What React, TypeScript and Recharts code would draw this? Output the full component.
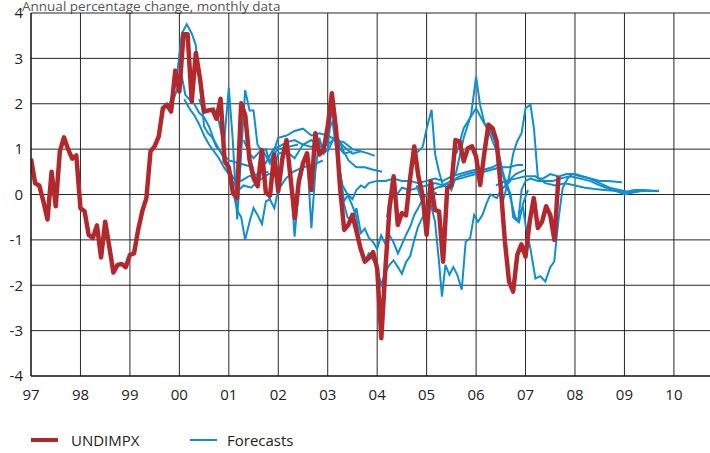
import React from 'react';
import { LineChart, Line, XAxis, YAxis, ReferenceLine, Legend } from 'recharts';

const startYear = 1997;
// UNDIMPX, monthly values from Jan 1997
const undimpx = [
  0.79, 0.25, 0.2, -0.15, -0.55, 0.5, -0.26, 0.95, 1.26, 1.0, 0.79, 0.86,
  -0.3, -0.37, -0.89, -0.96, -0.68, -1.39, -0.6, -1.15, -1.72, -1.55, -1.53, -1.6,
  -1.33, -1.3, -0.78, -0.37, -0.08, 0.95, 1.06, 1.28, 1.9, 1.98, 1.83, 2.73,
  2.27, 3.53, 3.53, 2.05, 3.12, 2.56, 1.83, 1.85, 1.87, 1.67, 2.11, 0.73,
  0.6, 0.03, -0.08, 2.01, 1.74, 0.78, 0.36, 0.18, 0.98, 0.03, -0.02, 0.88,
  0.07, 0.8, 1.2, 0.35, -0.52, 0.3, 0.69, 0.91, 0.1, 1.35, 0.88, 0.98,
  1.5, 2.23, 1.46, 0.14, -0.78, -0.67, -0.45, -0.82, -1.2, -1.48, -1.4, -1.27,
  -1.63, -3.17, -1.63, -0.3, 0.4, -0.67, -0.41, -0.46, 0.36, 1.06, 0.4, -0.01,
  -0.89, 0.29, -0.34, -0.37, -1.48, 0.14, 0.2, 1.2, 1.17, 0.73, 1.02, 1.06,
  0.84, 0.21, 0.91, 1.54, 1.46, 1.17, 0.14, -1.04, -1.92, -2.14, -1.33, -1.1,
  -1.37, -0.6, -0.08, -0.74, -0.6, -0.26, -0.45, -1.0, 0.4,
];

type P = [number, number];

const forecast01: P[] = [[1999.62,1.8],[1999.7,1.95],[1999.78,1.9],[1999.87,2.25],[1999.95,2.6],[2000.05,3.55],[2000.15,3.75],[2000.25,3.55],[2000.33,3.3],[2000.42,2.4],[2000.5,1.5],[2000.58,1.35],[2000.67,1.25],[2000.75,1.05],[2000.83,0.95],[2000.92,0.85],[2001.0,0.75],[2001.17,0.7],[2001.33,0.65],[2001.5,0.6]];
const forecast02: P[] = [[1999.85,2.0],[1999.95,2.3],[2000.05,2.6],[2000.12,2.2],[2000.2,2.1],[2000.3,2.0],[2000.4,1.8],[2000.5,1.7],[2000.6,1.5],[2000.7,1.2],[2000.8,1.0],[2000.9,0.8],[2001.0,0.55],[2001.1,0.35],[2001.25,0.3],[2001.4,0.4],[2001.6,0.45],[2001.8,0.5]];
const forecast03: P[] = [[2000.1,2.1],[2000.2,1.9],[2000.3,1.75],[2000.4,1.55],[2000.5,1.3],[2000.6,1.1],[2000.7,0.95],[2000.8,0.8],[2000.9,0.6],[2001.0,0.45],[2001.1,0.25],[2001.2,0.1],[2001.3,0.2],[2001.45,0.15],[2001.6,0.3],[2001.8,0.45],[2002.0,0.5],[2002.1,0.55]];
const forecast04: P[] = [[2000.4,2.1],[2000.5,1.8],[2000.6,1.85],[2000.7,1.9],[2000.8,1.6],[2000.9,1.1],[2001.0,2.35],[2001.08,1.2],[2001.17,-0.55],[2001.25,0.9],[2001.33,2.3],[2001.42,1.85],[2001.5,1.85],[2001.58,1.1],[2001.67,0.95],[2001.75,1.0],[2001.83,0.7],[2001.92,0.9],[2002.0,1.0],[2002.2,1.05],[2002.4,1.1]];
const forecast05: P[] = [[2000.9,0.6],[2001.0,0.5],[2001.08,0.1],[2001.17,-0.35],[2001.25,-0.5],[2001.33,-1.0],[2001.42,-0.6],[2001.5,-0.3],[2001.58,-0.45],[2001.67,-0.65],[2001.75,-0.15],[2001.83,-0.1],[2001.92,-0.3],[2002.0,0.1],[2002.15,0.35],[2002.3,0.5],[2002.5,0.6],[2002.7,0.65],[2002.9,0.75]];
const forecast06: P[] = [[2001.42,0.8],[2001.5,0.5],[2001.58,0.3],[2001.67,0.9],[2001.75,0.1],[2001.83,-0.1],[2001.92,0.9],[2002.0,0.0],[2002.08,0.7],[2002.17,1.1],[2002.25,0.4],[2002.33,-0.93],[2002.42,0.2],[2002.5,0.6],[2002.58,0.9],[2002.67,-0.74],[2002.75,0.5],[2002.83,1.25],[2002.92,0.9],[2003.0,1.0],[2003.08,1.9],[2003.17,1.3],[2003.25,1.0],[2003.33,0.9],[2003.5,0.95]];
const forecast07: P[] = [[2001.3,1.2],[2001.42,0.9],[2001.5,0.8],[2001.67,1.0],[2001.83,0.7],[2002.0,1.25],[2002.17,1.3],[2002.33,1.4],[2002.5,1.45],[2002.67,1.3],[2002.83,1.35],[2003.0,1.3],[2003.17,1.2],[2003.33,1.15],[2003.5,1.0],[2003.67,0.95]];
const forecast08: P[] = [[2001.6,0.6],[2001.75,0.7],[2001.9,1.0],[2002.0,1.05],[2002.17,1.15],[2002.33,1.2],[2002.5,1.1],[2002.67,1.2],[2002.83,1.05],[2003.0,1.1],[2003.17,1.25],[2003.33,1.05],[2003.5,0.9],[2003.67,0.95],[2003.83,0.9],[2003.95,0.85]];
const forecast09: P[] = [[2001.9,0.5],[2002.0,0.9],[2002.17,0.95],[2002.33,0.8],[2002.5,1.1],[2002.67,1.05],[2002.83,1.15],[2003.0,0.95],[2003.17,1.35],[2003.3,1.0],[2003.42,0.75],[2003.58,0.6],[2003.75,0.6],[2003.9,0.55],[2004.1,0.5]];
const forecast10: P[] = [[2003.0,1.4],[2003.1,1.6],[2003.2,0.75],[2003.3,0.2],[2003.4,0.0],[2003.5,-0.25],[2003.58,-0.5],[2003.67,-1.2],[2003.75,-1.45],[2003.83,-1.3],[2003.92,-1.45],[2004.0,-1.6],[2004.08,-2.0],[2004.17,-1.7],[2004.25,-1.55],[2004.33,-1.45],[2004.42,-1.6],[2004.5,-1.75],[2004.58,-1.5],[2004.67,-1.35],[2004.75,-1.0],[2004.83,-0.7],[2004.92,-0.5],[2005.0,-0.3],[2005.08,-0.1],[2005.2,0.05]];
const forecast11: P[] = [[2003.2,0.9],[2003.3,-0.1],[2003.4,-0.5],[2003.5,-0.6],[2003.58,-0.3],[2003.67,-0.85],[2003.75,-0.75],[2003.83,-0.95],[2003.92,-1.05],[2004.0,-1.2],[2004.08,-0.9],[2004.17,-1.1],[2004.25,-0.9],[2004.33,-1.05],[2004.42,-1.3],[2004.5,-1.1],[2004.58,-0.9],[2004.67,-0.7],[2004.75,-0.45],[2004.83,-0.3],[2004.92,-0.1],[2005.0,0.0],[2005.2,0.15],[2005.4,0.2]];
const forecast12: P[] = [[2003.25,0.5],[2003.33,-0.15],[2003.42,0.0],[2003.5,-0.1],[2003.58,0.1],[2003.67,0.2],[2003.75,0.15],[2003.83,0.25],[2004.0,0.3],[2004.17,0.3],[2004.33,0.35],[2004.5,0.3],[2004.67,0.3],[2004.83,0.25],[2005.0,0.3],[2005.17,0.35],[2005.33,0.3],[2005.5,0.4],[2005.67,0.45],[2005.83,0.5],[2006.0,0.55]];
const forecast13: P[] = [[2004.2,-0.5],[2004.3,0.3],[2004.4,0.0],[2004.5,0.15],[2004.67,0.1],[2004.83,0.15],[2005.0,0.2],[2005.17,0.25],[2005.33,0.2],[2005.5,0.3],[2005.67,0.35],[2005.83,0.4],[2006.0,0.45],[2006.17,0.5],[2006.33,0.55],[2006.5,0.6],[2006.67,0.6],[2006.83,0.65],[2006.95,0.65]];
const forecast14: P[] = [[2004.6,0.0],[2004.67,0.5],[2004.75,0.9],[2004.83,0.95],[2004.92,1.05],[2005.0,1.45],[2005.1,1.87],[2005.17,0.9],[2005.25,0.5],[2005.33,0.2],[2005.42,0.25],[2005.5,0.1],[2005.58,0.35],[2005.67,0.4],[2005.83,0.45],[2006.0,0.5],[2006.17,0.55],[2006.33,0.6],[2006.5,0.7]];
const forecast15: P[] = [[2004.8,0.2],[2004.92,-0.2],[2005.0,-0.5],[2005.08,-0.2],[2005.17,-0.6],[2005.25,-1.48],[2005.31,-2.25],[2005.38,-1.55],[2005.46,-1.77],[2005.54,-1.6],[2005.62,-1.77],[2005.71,-2.1],[2005.79,-1.04],[2005.88,-0.96],[2005.96,-0.45],[2006.04,-0.6],[2006.13,-0.45],[2006.21,-0.2],[2006.29,0.0],[2006.42,-0.08],[2006.5,0.1],[2006.7,0.3]];
const forecast16: P[] = [[2005.5,0.3],[2005.6,0.5],[2005.75,1.25],[2005.9,1.76],[2006.0,2.6],[2006.08,1.98],[2006.17,1.57],[2006.29,1.39],[2006.42,1.1],[2006.54,0.5],[2006.62,0.2],[2006.7,-0.1],[2006.79,-0.5],[2006.87,-0.6],[2006.95,-0.2],[2007.05,0.1]];
const forecast17: P[] = [[2005.6,0.9],[2005.75,1.46],[2006.0,1.9],[2006.12,1.65],[2006.25,1.4],[2006.4,1.0],[2006.5,0.6],[2006.6,0.2],[2006.7,0.35],[2006.8,0.45],[2006.9,0.5],[2007.0,0.55]];
const forecast18: P[] = [[2006.5,-0.3],[2006.58,0.0],[2006.67,0.4],[2006.75,0.9],[2006.83,1.17],[2006.92,1.35],[2007.0,1.9],[2007.1,1.98],[2007.17,1.46],[2007.25,0.36],[2007.35,0.35],[2007.5,0.45],[2007.67,0.4],[2007.83,0.45],[2008.0,0.45],[2008.17,0.4],[2008.33,0.35],[2008.5,0.3],[2008.67,0.3],[2008.83,0.28],[2008.95,0.27]];
const forecast19: P[] = [[2006.85,-0.4],[2006.95,-0.3],[2007.0,-0.67],[2007.1,-1.2],[2007.2,-1.85],[2007.3,-1.8],[2007.4,-1.92],[2007.5,-1.6],[2007.58,-1.48],[2007.67,-0.52],[2007.75,0.14],[2007.85,0.35],[2007.95,0.45],[2008.1,0.4],[2008.3,0.35],[2008.5,0.25],[2008.7,0.15],[2008.9,0.1],[2009.1,0.05],[2009.3,0.08],[2009.5,0.08],[2009.7,0.07]];
const forecast20: P[] = [[2006.6,0.3],[2006.7,0.0],[2006.75,-0.5],[2006.85,-0.6],[2006.92,0.1],[2007.0,0.3],[2007.1,0.35],[2007.25,0.3],[2007.4,0.3],[2007.55,0.3],[2007.7,0.35],[2007.9,0.4],[2008.1,0.35],[2008.3,0.3],[2008.5,0.2],[2008.7,0.12],[2008.9,0.05],[2009.0,0.0],[2009.2,0.05],[2009.4,0.08],[2009.7,0.08]];
const forecast21: P[] = [[2006.4,0.2],[2006.6,0.3],[2006.8,0.35],[2007.0,0.4],[2007.2,0.4],[2007.4,0.25],[2007.6,0.2],[2007.8,0.25],[2008.0,0.2],[2008.2,0.15],[2008.4,0.12],[2008.6,0.1],[2008.8,0.08],[2009.0,0.05],[2009.2,0.1],[2009.4,0.1],[2009.6,0.07]];

const forecasts: P[][] = [
  forecast01, forecast02, forecast03, forecast04, forecast05, forecast06, forecast07,
  forecast08, forecast09, forecast10, forecast11, forecast12, forecast13, forecast14,
  forecast15, forecast16, forecast17, forecast18, forecast19, forecast20, forecast21,
];

const xDomain: [number, number] = [1997, 2010.73];
const yDomain: [number, number] = [-4, 4];
const yearTicks = [1997, 1998, 1999, 2000, 2001, 2002, 2003, 2004, 2005, 2006, 2007, 2008, 2009, 2010];
const valueTicks = [-4, -3, -2, -1, 0, 1, 2, 3, 4];
const title = 'Annual percentage change, monthly data';
const seriesNames = ['UNDIMPX', 'Forecasts'];

const CHART_W = 710;
const CHART_H = 453;
const Y_AXIS_W = 31;
const X_AXIS_H = 77;
const TOP = 13;

const RED = '#b3282d';
const BLUE = '#0d8fd1';
const GRID = '#262626';
const FONT = '"Open Sans", "Noto Sans", sans-serif';

const redData = undimpx.map((v, i) => ({ t: startYear + i / 12, v }));
const blueData = forecasts.map((f) => f.map(([t, v]) => ({ t, v })));

// grid row positions follow the plot box (top margin to x-axis)
const plotBottom = CHART_H - X_AXIS_H;
const rowY = (v: number) => TOP + ((yDomain[1] - v) / (yDomain[1] - yDomain[0])) * (plotBottom - TOP);

const LegendContent = () => (
  <div style={{ position: 'relative', height: 22, width: 400, fontFamily: FONT, fontSize: 15, color: '#222' }}>
    <span style={{ position: 'absolute', left: 31, top: 9, width: 27, height: 4, background: RED }} />
    <span style={{ position: 'absolute', left: 71, top: 0, lineHeight: '22px' }}>{seriesNames[0]}</span>
    <span style={{ position: 'absolute', left: 190, top: 10, width: 27, height: 2, background: BLUE }} />
    <span style={{ position: 'absolute', left: 227, top: 0, lineHeight: '22px' }}>{seriesNames[1]}</span>
  </div>
);

export default function App() {
  return (
    <div style={{ position: 'absolute', left: 0, top: 0, width: CHART_W, height: CHART_H, background: '#fff' }}>
      <LineChart width={CHART_W} height={CHART_H} data={redData} margin={{ top: TOP, right: 0, bottom: 0, left: 0 }}>
        <text x={22} y={11} fontSize={13.5} fill="#555" fontFamily={FONT}>{title}</text>
        <g className="grid-rows">
          {valueTicks.map((v) => (
            <path
              key={'row' + v}
              d={`M${Y_AXIS_W},${rowY(v)}H${CHART_W}`}
              stroke={GRID}
              strokeWidth={1}
              fill="none"
            />
          ))}
        </g>
        {yearTicks.map((yr) => (
          <ReferenceLine key={'gx' + yr} x={yr} stroke={GRID} strokeWidth={1} ifOverflow="visible" />
        ))}
        <XAxis
          dataKey="t"
          type="number"
          domain={xDomain}
          allowDataOverflow
          ticks={yearTicks}
          tickFormatter={(y: number) => String(y % 100).padStart(2, '0')}
          tickLine={false}
          axisLine={{ stroke: '#000' }}
          tickMargin={7}
          height={X_AXIS_H}
          tick={{ fill: '#222', fontSize: 15, fontFamily: FONT }}
        />
        <YAxis
          type="number"
          domain={yDomain}
          ticks={valueTicks}
          width={Y_AXIS_W}
          tickLine={false}
          axisLine={{ stroke: '#000' }}
          tick={{ fill: '#222', fontSize: 15, fontFamily: FONT }}
        />
        {blueData.map((d, i) => (
          <Line
            key={'f' + i}
            data={d}
            dataKey="v"
            type="linear"
            stroke={BLUE}
            strokeWidth={2}
            dot={false}
            activeDot={false}
            isAnimationActive={false}
            legendType="none"
          />
        ))}
        <Line
          dataKey="v"
          type="linear"
          stroke={RED}
          strokeWidth={4.5}
          dot={false}
          activeDot={false}
          isAnimationActive={false}
          strokeLinejoin="round"
        />
        <Legend
          verticalAlign="middle"
          align="center"
          layout="horizontal"
          wrapperStyle={{ position: 'absolute', top: 429, left: 0, width: 400 }}
          content={LegendContent}
        />
      </LineChart>
    </div>
  );
}
